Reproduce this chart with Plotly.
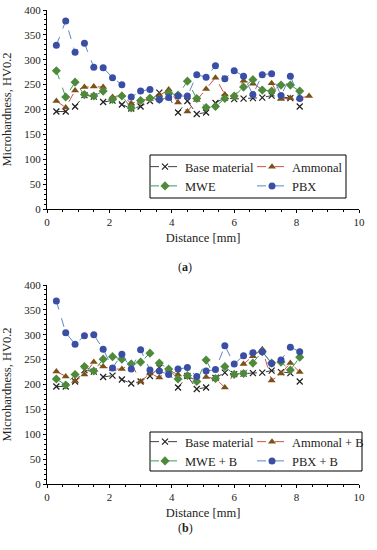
import plotly.graph_objects as go

# ---------------- data ----------------
dist = [0.3, 0.6, 0.9, 1.2, 1.5, 1.8, 2.1, 2.4, 2.7, 3.0, 3.3, 3.6, 3.9, 4.2,
        4.5, 4.8, 5.1, 5.4, 5.7, 6.0, 6.3, 6.6, 6.9, 7.2, 7.5, 7.8, 8.1]
dist_ammonal_a = dist + [8.4]

base_material = [196, 196, 206, 229, 226, 215, 218, 210, 202, 206, 217, 234, 225, 194,
                 217, 191, 194, 213, 224, 221, 222, 223, 224, 228, 225, 223, 206]

# panel (a)
ammonal_a = [217, 204, 238, 245, 246, 245, 225, 229, 212, 218, 221, 228, 240, 214,
             196, 219, 241, 264, 230, 225, 258, 252, 240, 253, 221, 223, 223, 227]
mwe_a = [278, 225, 255, 230, 227, 237, 220, 227, 203, 218, 223, 220, 233, 229,
         257, 222, 204, 206, 222, 227, 245, 260, 239, 237, 249, 249, 237]
pbx_a = [329, 378, 315, 333, 285, 284, 264, 250, 225, 237, 240, 220, 224, 227,
         227, 270, 265, 288, 262, 278, 267, 230, 270, 272, 228, 267, 222]

# panel (b)
ammonal_b = [226, 216, 207, 220, 245, 236, 231, 231, 243, 206, 222, 214, 229, 220,
             216, 209, 215, 212, 194, 222, 241, 257, 271, 208, 222, 243, 225]
mwe_b = [211, 199, 220, 236, 227, 251, 256, 251, 241, 245, 263, 243, 231, 211,
         218, 206, 249, 212, 236, 220, 222, 243, 266, 243, 245, 229, 255]
pbx_b = [368, 304, 281, 298, 300, 271, 233, 261, 231, 270, 229, 227, 220, 231,
         234, 216, 227, 230, 278, 241, 258, 264, 266, 242, 249, 275, 266]

names_a = ["Base material", "Ammonal", "MWE", "PBX"]
names_b = ["Base material", "Ammonal + B", "MWE + B", "PBX + B"]

# ---------------- styles ----------------
FONT = "Liberation Serif, Times New Roman, serif"
styles = [
    dict(line=dict(color="#404040", width=1, dash="dash"),
         marker=dict(symbol="x-thin", size=6, color="#202020", line=dict(width=1.2, color="#202020"))),
    dict(line=dict(color="#d0504a", width=1, dash="dash"),
         marker=dict(symbol="triangle-up", size=7, color="#7a5218")),
    dict(line=dict(color="#3c9a5c", width=1, dash="dash"),
         marker=dict(symbol="diamond", size=7, color="#4f8a3a")),
    dict(line=dict(color="#5a86c8", width=1, dash="dash"),
         marker=dict(symbol="circle", size=7, color="#3a4ea6")),
]

W, H = 377, 550
def px(p):
    return p / W
def py(p):
    return 1 - p / H

# legend columns: column 1 = Base material / MWE, column 2 = Ammonal / PBX
leg_cols_a = ["legend", "legend2", "legend", "legend2"]
leg_cols_b = ["legend3", "legend4", "legend3", "legend4"]

fig = go.Figure()

series_a = [(dist, base_material), (dist_ammonal_a, ammonal_a), (dist, mwe_a), (dist, pbx_a)]
series_b = [(dist, base_material), (dist, ammonal_b), (dist, mwe_b), (dist, pbx_b)]

for (xs, ys), nm, st, lg in zip(series_a, names_a, styles, leg_cols_a):
    fig.add_trace(go.Scatter(x=xs, y=ys, name=nm, mode="lines+markers",
                             xaxis="x", yaxis="y", legend=lg, **st))
for (xs, ys), nm, st, lg in zip(series_b, names_b, styles, leg_cols_b):
    fig.add_trace(go.Scatter(x=xs, y=ys, name=nm, mode="lines+markers",
                             xaxis="x2", yaxis="y2", legend=lg, **st))

xdom = [px(47), px(359)]
ya = [py(209), py(10)]
yb = [py(484), py(285)]

def xax(anchor):
    return dict(domain=xdom, anchor=anchor, range=[0, 10], dtick=2, tick0=0,
                showgrid=False, zeroline=False, showline=True, linecolor="black",
                linewidth=1, ticks="outside", ticklen=3, tickcolor="black",
                minor=dict(dtick=0.5, ticks="outside", ticklen=2, tickcolor="black"),
                tickfont=dict(family=FONT, size=11, color="#222"),
                ticklabeloverflow="allow",
                title=dict(text="Distance [mm]", font=dict(family=FONT, size=12.5, color="#222"), standoff=6),
                automargin=False)

def yax(dom, anchor):
    return dict(domain=dom, anchor=anchor, range=[0, 400], dtick=50,
                showgrid=False, zeroline=False, showline=True, linecolor="black",
                linewidth=1, ticks="outside", ticklen=3, tickcolor="black",
                minor=dict(dtick=10, ticks="outside", ticklen=2, tickcolor="black"),
                tickfont=dict(family=FONT, size=11, color="#222"),
                ticklabeloverflow="allow",
                title=dict(text="Microhardness, HV0.2", font=dict(family=FONT, size=12.5, color="#222"), standoff=12),
                automargin=False)

legend_common = dict(orientation="v", xanchor="left", yanchor="top",
                     bgcolor="rgba(0,0,0,0)", borderwidth=0,
                     font=dict(family=FONT, size=12.5, color="#222"),
                     traceorder="normal", itemwidth=30, tracegroupgap=0)

fig.update_layout(
    width=W, height=H, autosize=False,
    margin=dict(l=0, r=0, t=0, b=0),
    paper_bgcolor="white", plot_bgcolor="white",
    xaxis=xax("y"), yaxis=yax(ya, "x"),
    xaxis2=xax("y2"), yaxis2=yax(yb, "x2"),
    legend=dict(x=px(145), y=py(152), **legend_common),
    legend2=dict(x=px(252), y=py(152), **legend_common),
    legend3=dict(x=px(145), y=py(427), **legend_common),
    legend4=dict(x=px(252), y=py(427), **legend_common),
    showlegend=True,
    shapes=[
        dict(type="rect", xref="paper", yref="paper", x0=px(150), x1=px(346),
             y0=py(198), y1=py(155), line=dict(color="black", width=1),
             fillcolor="white", layer="above"),
        dict(type="rect", xref="paper", yref="paper", x0=px(150), x1=px(362),
             y0=py(471), y1=py(432), line=dict(color="black", width=1),
             fillcolor="white", layer="above"),
    ],
    annotations=[
        dict(text="(<b>a</b>)", x=px(185), y=py(267), xref="paper", yref="paper",
             showarrow=False, font=dict(family=FONT, size=12, color="#222")),
        dict(text="(<b>b</b>)", x=px(185), y=py(537), xref="paper", yref="paper",
             showarrow=False, font=dict(family=FONT, size=12, color="#222")),
    ],
)

# remove the default 8 px page margin so the figure sits at the window origin
fig.write_html("out.html", config={"displayModeBar": False},
               post_script="document.body.style.margin='0';")
